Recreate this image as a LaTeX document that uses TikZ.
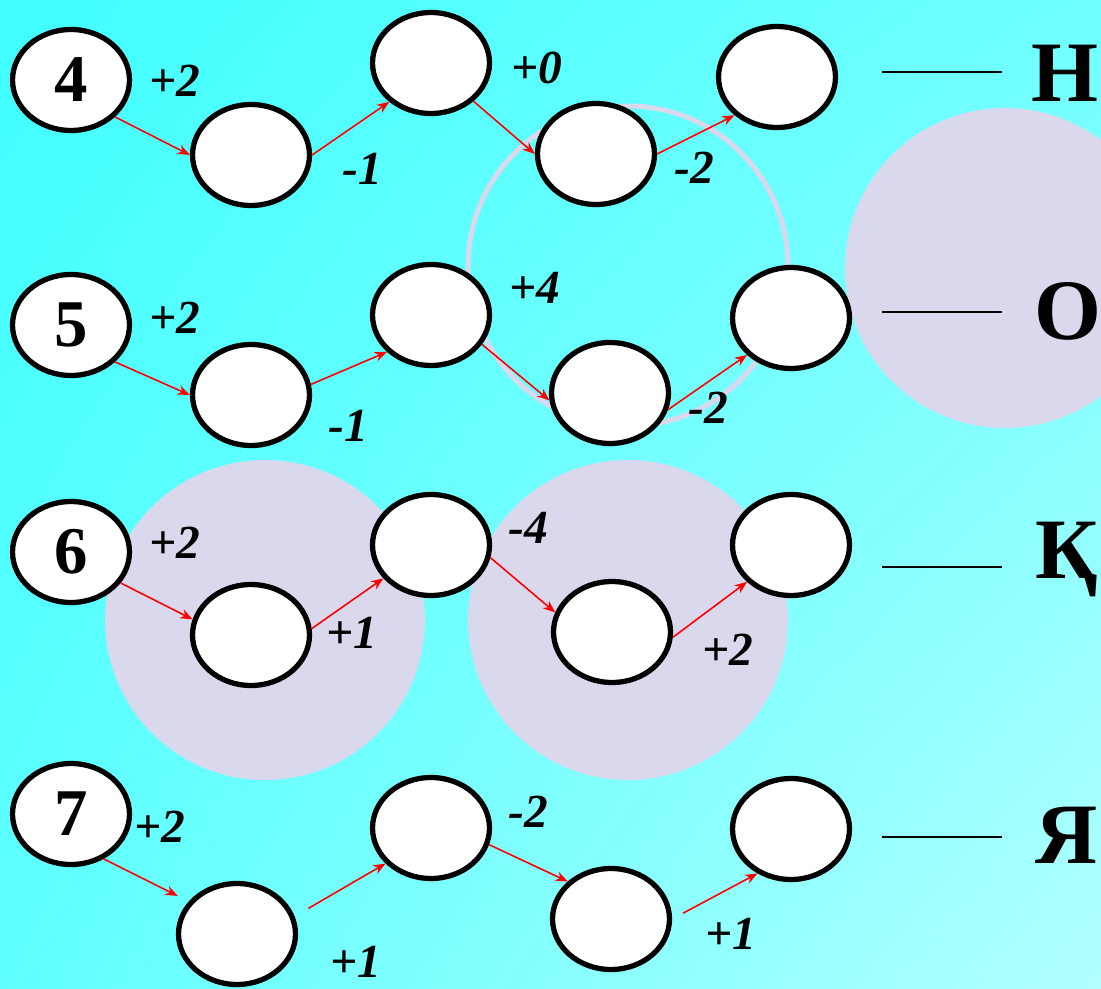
\documentclass[tikz,border=0pt]{standalone}
\usepackage{fontspec}
\setmainfont{Liberation Serif}
\usetikzlibrary{shapes.geometric, arrows.meta, shadings}

\definecolor{bgTL}{HTML}{40FFFF}
\definecolor{bgTR}{HTML}{70FFFF}
\definecolor{bgBL}{HTML}{60FFFF}
\definecolor{bgBR}{HTML}{B2FFFF}
\definecolor{lav}{HTML}{DAD8EC}

\begin{document}
\begin{tikzpicture}[x=0.02cm, y=-0.02cm,
  cell/.style={ellipse, draw, line width=3pt, fill=white, inner sep=0pt,
    minimum width=2.34cm, minimum height=2.02cm,
    font=\fontsize{38}{38}\selectfont\bfseries},
  hop/.style={red, line width=0.9pt, -{Stealth[length=7pt, width=5.5pt]}},
  val/.style={font=\fontsize{27}{27}\selectfont\bfseries\itshape, inner sep=0pt},
  letter/.style={font=\fontsize{49}{49}\selectfont\bfseries, anchor=base west, inner sep=0pt}]

  \useasboundingbox (0,0) rectangle (1101,989);
  \clip (0,0) rectangle (1101,989);
  \shade[upper left=bgTL, upper right=bgTR, lower left=bgBL, lower right=bgBR]
    (0,0) rectangle (1101,989);

  % lavender discs and ring
  \fill[lav] (1005,268) circle (3.2cm);
  \fill[lav] (265,620) circle (3.2cm);
  \fill[lav] (628,620) circle (3.2cm);
  \draw[lav, line width=0.1cm] (628,266) circle (3.2cm);

  % row 4
  \node[cell] (a1) at (71,80) {4};
  \node[cell] (a2) at (251,155) {};
  \node[cell] (a3) at (431,63) {};
  \node[cell] (a4) at (596,154) {};
  \node[cell] (a5) at (777,77) {};
  \draw[hop] (a1.-40) -- (a2.west);
  \draw[hop] (a2.east) -- (a3.223);
  \draw[hop] (a3.-42) -- (a4.west);
  \draw[hop] (a4.east) -- (a5.222);
  \node[val] at (175,81) {+2};
  \node[val] at (362,169) {-1};
  \node[val] at (537,68) {+0};
  \node[val] at (694,168) {-2};

  % row 5
  \node[cell] (b1) at (71,325) {5};
  \node[cell] (b2) at (251,395) {};
  \node[cell] (b3) at (431,315) {};
  \node[cell] (b4) at (610,393) {};
  \node[cell] (b5) at (791,318) {};
  \draw[hop] (b1.-40) -- (b2.west);
  \draw[hop] (b2.10) -- (b3.220);
  \draw[hop] (b3.-30) -- (b4.187);
  \draw[hop] (b4.-16) -- (b5.220);
  \node[val] at (175,318) {+2};
  \node[val] at (348,426) {-1};
  \node[val] at (535,288) {+4};
  \node[val] at (708,408) {-2};

  % row 6
  \node[cell] (c1) at (71,552) {6};
  \node[cell] (c2) at (251,635) {};
  \node[cell] (c3) at (431,545) {};
  \node[cell] (c4) at (612,632) {};
  \node[cell] (c5) at (791,545) {};
  \draw[hop] (c1.-32) -- (c2.165);
  \draw[hop] (c2.6) -- (c3.215);
  \draw[hop] (c3.-12) -- (c4.161);
  \draw[hop] (c4.-5) -- (c5.220);
  \node[val] at (175,543) {+2};
  \node[val] at (352,633) {+1};
  \node[val] at (528,528) {-4};
  \node[val] at (728,650) {+2};

  % row 7
  \node[cell] (d1) at (71,814) {7};
  \node[cell] (d2) at (237,934) {};
  \node[cell] (d3) at (431,828) {};
  \node[cell] (d4) at (611,919) {};
  \node[cell] (d5) at (791,829) {};
  \draw[hop, shorten >=7pt] (d1.-54) -- (d2.146);
  \draw[hop, shorten <=9pt] (d2.17) -- (d3.218);
  \draw[hop] (d3.-16) -- (d4.139);
  \draw[hop, shorten <=7pt] (d4.east) -- (d5.233);
  \node[val] at (160,827) {+2};
  \node[val] at (356,962) {+1};
  \node[val] at (528,812) {-2};
  \node[val] at (731,934) {+1};

  % answers
  \draw[line width=1.2pt] (882,72) -- (1002,72);
  \draw[line width=1.2pt] (882,312) -- (1002,312);
  \draw[line width=1.2pt] (882,567) -- (1002,567);
  \draw[line width=1.2pt] (882,837) -- (1002,837);
  \node[letter] (h) at (1031,102) {Н};
  \node[letter] (o) at (1034,340) {О};
  \node[letter] (k) at (1035,578) {Қ};
  \node[letter] (ya) at (1035,863) {Я};
\end{tikzpicture}
\end{document}
